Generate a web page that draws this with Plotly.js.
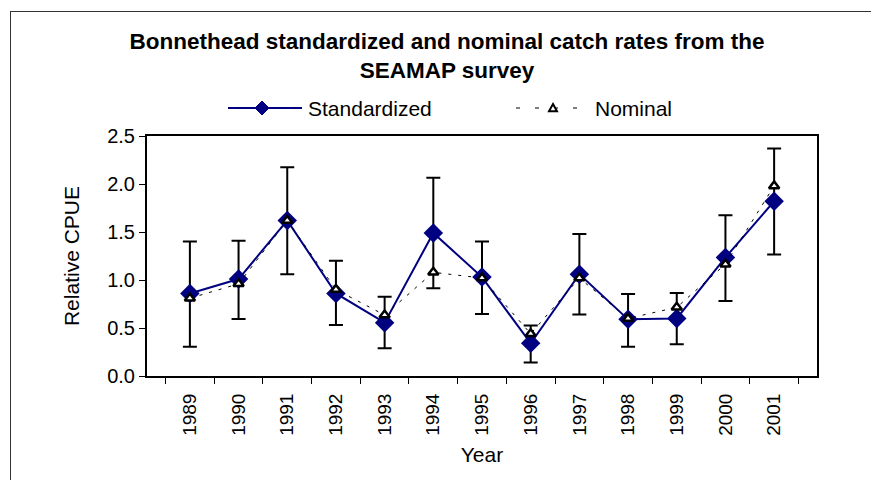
<!DOCTYPE html>
<html>
<head>
<meta charset="utf-8">
<script src="https://cdn.plot.ly/plotly-3.0.1.min.js"></script>
<style>
html,body{margin:0;padding:0;background:#fff;overflow:hidden;width:871px;height:480px;}
#wrap{position:relative;width:871px;height:480px;overflow:hidden;}
#chart{width:871px;height:480px;}
#frame{position:absolute;left:10px;top:11px;width:900px;height:500px;border-left:1.5px solid #333;border-top:1.5px solid #333;pointer-events:none;box-sizing:border-box;}
</style>
</head>
<body>
<div id="wrap"><div id="chart"></div><div id="frame"></div></div>
<script>
var years = ['1989','1990','1991','1992','1993','1994','1995','1996','1997','1998','1999','2000','2001'];
var standardized = [0.86, 1.01, 1.62, 0.86, 0.555, 1.49, 1.03, 0.34, 1.06, 0.59, 0.60, 1.235, 1.82];
var nominal = [0.81, 0.96, 1.62, 0.90, 0.635, 1.08, 1.02, 0.44, 1.02, 0.60, 0.715, 1.165, 1.98];
var upperCI = [1.40, 1.41, 2.175, 1.20, 0.825, 2.065, 1.40, 0.525, 1.48, 0.855, 0.865, 1.675, 2.37];
var lowerCI = [0.305, 0.595, 1.06, 0.53, 0.29, 0.915, 0.645, 0.14, 0.64, 0.305, 0.33, 0.78, 1.265];
var seriesNames = ['Standardized', 'Nominal'];

var errPlus = standardized.map(function(v, i){ return upperCI[i] - v; });
var errMinus = standardized.map(function(v, i){ return v - lowerCI[i]; });

var font = 'Arial, "Liberation Sans", sans-serif';

// plot area in pixels: left 147, right 817, top 136, bottom 376
function px(x){ return (x - 147) / 670; }
function py(y){ return (376 - y) / 240; }

var traces = [
  {
    x: years, y: standardized, name: seriesNames[0], type: 'scatter', mode: 'lines+markers',
    line: {color: '#000080', width: 2},
    marker: {symbol: 'diamond', size: 15, color: '#000080'},
    error_y: {type: 'data', symmetric: false, array: errPlus, arrayminus: errMinus,
              color: '#000000', thickness: 2, width: 7}
  },
  {
    x: years, y: nominal, name: seriesNames[1], type: 'scatter', mode: 'lines+markers',
    line: {color: '#000000', width: 1, dash: '3px,7px'},
    marker: {symbol: 'triangle-up', size: 9, color: '#ffffff', line: {color: '#000000', width: 2.5}}
  }
];

var ly = 108;
function diamondPath(cx, cy, r){
  return 'M' + px(cx) + ',' + py(cy - r) + ' L' + px(cx + r) + ',' + py(cy) +
         ' L' + px(cx) + ',' + py(cy + r) + ' L' + px(cx - r) + ',' + py(cy) + ' Z';
}
function trianglePath(cx, cy, r){
  return 'M' + px(cx) + ',' + py(cy - r) + ' L' + px(cx + r) + ',' + py(cy + r * 0.8) +
         ' L' + px(cx - r) + ',' + py(cy + r * 0.8) + ' Z';
}

var shapes = [
  // legend: standardized
  {type: 'line', xref: 'paper', yref: 'paper', x0: px(228), x1: px(302), y0: py(ly), y1: py(ly),
   line: {color: '#000080', width: 2}},
  {type: 'path', xref: 'paper', yref: 'paper', path: diamondPath(262, ly, 7),
   fillcolor: '#000080', line: {color: '#000080', width: 1}},
  // legend: nominal
  {type: 'line', xref: 'paper', yref: 'paper', x0: px(516), x1: px(582), y0: py(ly), y1: py(ly),
   line: {color: '#000000', width: 1, dash: '4px,15px'}},
  {type: 'path', xref: 'paper', yref: 'paper', path: trianglePath(553, ly, 4),
   fillcolor: '#ffffff', line: {color: '#000000', width: 2}}
];

var annotations = [
  {text: seriesNames[0], xref: 'paper', yref: 'paper', x: px(306), y: py(ly), xanchor: 'left', yanchor: 'middle',
   showarrow: false, font: {family: font, size: 21, color: '#000'}},
  {text: seriesNames[1], xref: 'paper', yref: 'paper', x: px(593), y: py(ly), xanchor: 'left', yanchor: 'middle',
   showarrow: false, font: {family: font, size: 21, color: '#000'}}
];

var layout = {
  width: 871, height: 480,
  margin: {l: 147, r: 54, t: 136, b: 104},
  paper_bgcolor: '#ffffff', plot_bgcolor: '#ffffff',
  font: {family: font, color: '#000000', size: 19},
  title: {
    text: '<b>Bonnethead standardized and nominal catch rates from the<br>SEAMAP survey</b>',
    font: {family: font, size: 22.5, color: '#000000'},
    xref: 'container', x: 447/871, xanchor: 'center',
    yref: 'container', y: 1 - 49/480, yanchor: 'top'
  },
  showlegend: false,
  xaxis: {
    type: 'category', tickangle: -90, tickson: 'boundaries',
    ticks: 'outside', ticklen: 6, tickwidth: 1, tickcolor: '#000',
    ticklabelstandoff: 8,
    showline: true, linecolor: '#000', linewidth: 2, mirror: true,
    showgrid: false, zeroline: false,
    tickfont: {family: font, size: 19, color: '#000'},
    title: {text: 'Year', font: {family: font, size: 21, color: '#000'}, standoff: 12}
  },
  yaxis: {
    range: [0, 2.5], dtick: 0.5, tickformat: '.1f',
    ticks: 'outside', ticklen: 6, tickwidth: 1, tickcolor: '#000',
    showline: true, linecolor: '#000', linewidth: 2, mirror: true,
    showgrid: false, zeroline: false,
    tickfont: {family: font, size: 20, color: '#000'},
    title: {text: 'Relative CPUE', font: {family: font, size: 21, color: '#000'}, standoff: 22}
  },
  shapes: shapes,
  annotations: annotations
};

Plotly.newPlot('chart', traces, layout, {displayModeBar: false, staticPlot: true});
</script>
</body>
</html>
